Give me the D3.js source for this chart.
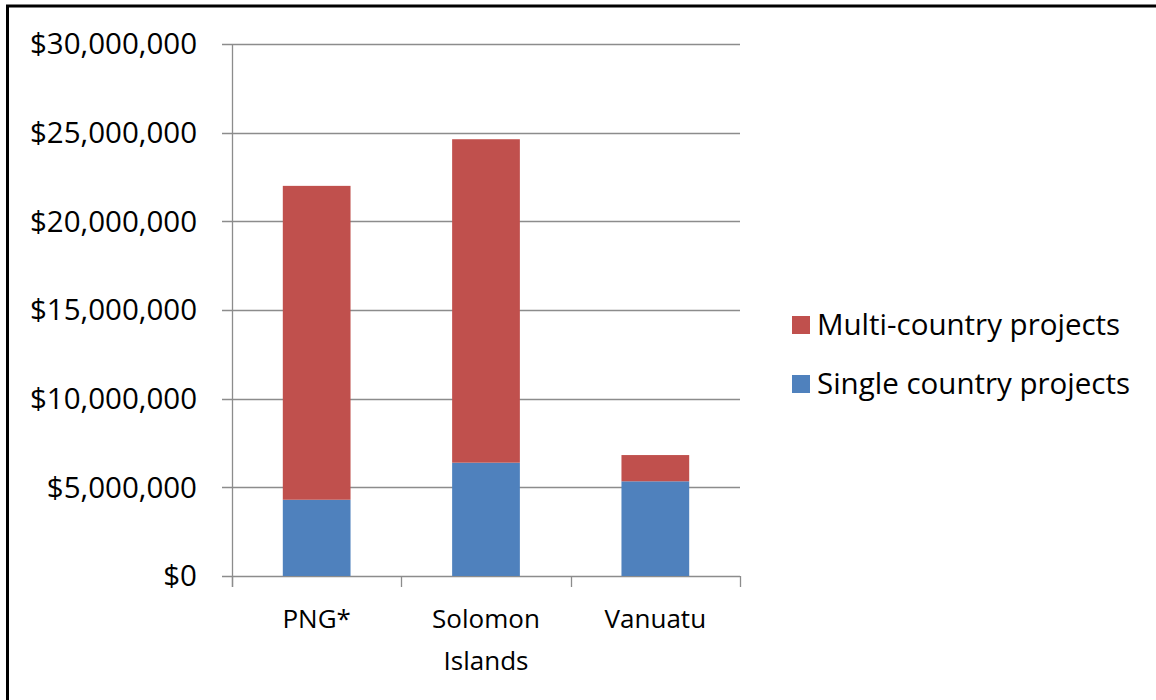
<!DOCTYPE html>
<html>
<head>
<meta charset="utf-8">
<script src="https://cdn.jsdelivr.net/npm/d3@7"></script>
<style>
  body { margin: 0; background: #fff; }
  text { font-family: "Open Sans", "Noto Sans", sans-serif; fill: #000; }
</style>
</head>
<body>
<div id="chart"></div>
<script>
// data
var countries = ["PNG*", "Solomon Islands", "Vanuatu"];
var singleCountry = [4300000, 6390000, 5340000];
var multiCountry = [17700000, 18240000, 1480000];
var seriesNames = ["Multi-country projects", "Single country projects"];
var yTicks = [0, 5000000, 10000000, 15000000, 20000000, 25000000, 30000000];

var width = 1156, height = 700;
var plot = { left: 232, right: 740, top: 44, bottom: 576 };

var svg = d3.select("#chart")
  .append("svg")
  .attr("width", width)
  .attr("height", height);

// frame border (top and left edges are visible)
svg.append("path")
  .attr("d", "M7.5,700 V6 H1156")
  .attr("fill", "none")
  .attr("stroke", "#000")
  .attr("stroke-width", 3);

var y = d3.scaleLinear()
  .domain([0, 30000000])
  .range([plot.bottom, plot.top]);

var x = d3.scaleBand()
  .domain(countries)
  .range([plot.left, plot.right])
  .paddingInner(0.6)
  .paddingOuter(0.3);

// gridlines
svg.append("g")
  .selectAll("line")
  .data(yTicks)
  .enter()
  .append("line")
  .attr("x1", plot.left - 10)
  .attr("x2", plot.right)
  .attr("y1", function (d) { return Math.round(y(d)) + 0.5; })
  .attr("y2", function (d) { return Math.round(y(d)) + 0.5; })
  .attr("stroke", "#8c8c8c")
  .attr("stroke-width", 1.3);

// y labels
var fmt = d3.format("$,.0f");
svg.append("g")
  .selectAll("text")
  .data(yTicks)
  .enter()
  .append("text")
  .attr("x", 197)
  .attr("y", function (d) { return y(d); })
  .attr("dy", "0.35em")
  .attr("text-anchor", "end")
  .style("font-size", "29.5px")
  .text(function (d) { return fmt(d); });

// stacked bars
var rows = countries.map(function (c, i) {
  return { country: c, single: singleCountry[i], multi: multiCountry[i] };
});
var stack = d3.stack().keys(["single", "multi"]);
var colors = { single: "#4f81bd", multi: "#c0504d" };

svg.append("g")
  .selectAll("g")
  .data(stack(rows))
  .enter()
  .append("g")
  .attr("fill", function (s) { return colors[s.key]; })
  .selectAll("rect")
  .data(function (s) { return s; })
  .enter()
  .append("rect")
  .attr("x", function (d) { return x(d.data.country); })
  .attr("width", x.bandwidth())
  .attr("y", function (d) { return y(d[1]); })
  .attr("height", function (d) { return y(d[0]) - y(d[1]); });

// axes lines
svg.append("line")
  .attr("x1", plot.left + 0.5).attr("x2", plot.left + 0.5)
  .attr("y1", plot.top).attr("y2", plot.bottom + 11)
  .attr("stroke", "#8c8c8c").attr("stroke-width", 1.3);

var step = (plot.right - plot.left) / countries.length;
svg.append("g")
  .selectAll("line")
  .data(d3.range(countries.length + 1))
  .enter()
  .append("line")
  .attr("x1", function (i) { return Math.round(plot.left + i * step) + 0.5; })
  .attr("x2", function (i) { return Math.round(plot.left + i * step) + 0.5; })
  .attr("y1", plot.bottom)
  .attr("y2", plot.bottom + 11)
  .attr("stroke", "#8c8c8c")
  .attr("stroke-width", 1.3);

// category labels
svg.append("g")
  .selectAll("text")
  .data(countries)
  .enter()
  .append("text")
  .attr("text-anchor", "middle")
  .style("font-size", "26px")
  .each(function (c) {
    var words = c.split(" ");
    var t = d3.select(this);
    words.forEach(function (w, k) {
      t.append("tspan")
        .attr("x", x(c) + x.bandwidth() / 2)
        .attr("y", 628 + k * 42)
        .text(w);
    });
  });

// legend
var legend = svg.append("g");
seriesNames.forEach(function (name, i) {
  var ly = 325 + i * 59;
  legend.append("rect")
    .attr("x", 792)
    .attr("y", ly - 9)
    .attr("width", 18)
    .attr("height", 18)
    .attr("fill", i === 0 ? colors.multi : colors.single);
  legend.append("text")
    .attr("x", 817)
    .attr("y", ly)
    .attr("dy", "0.35em")
    .style("font-size", "29.5px")
    .text(name);
});
</script>
</body>
</html>
